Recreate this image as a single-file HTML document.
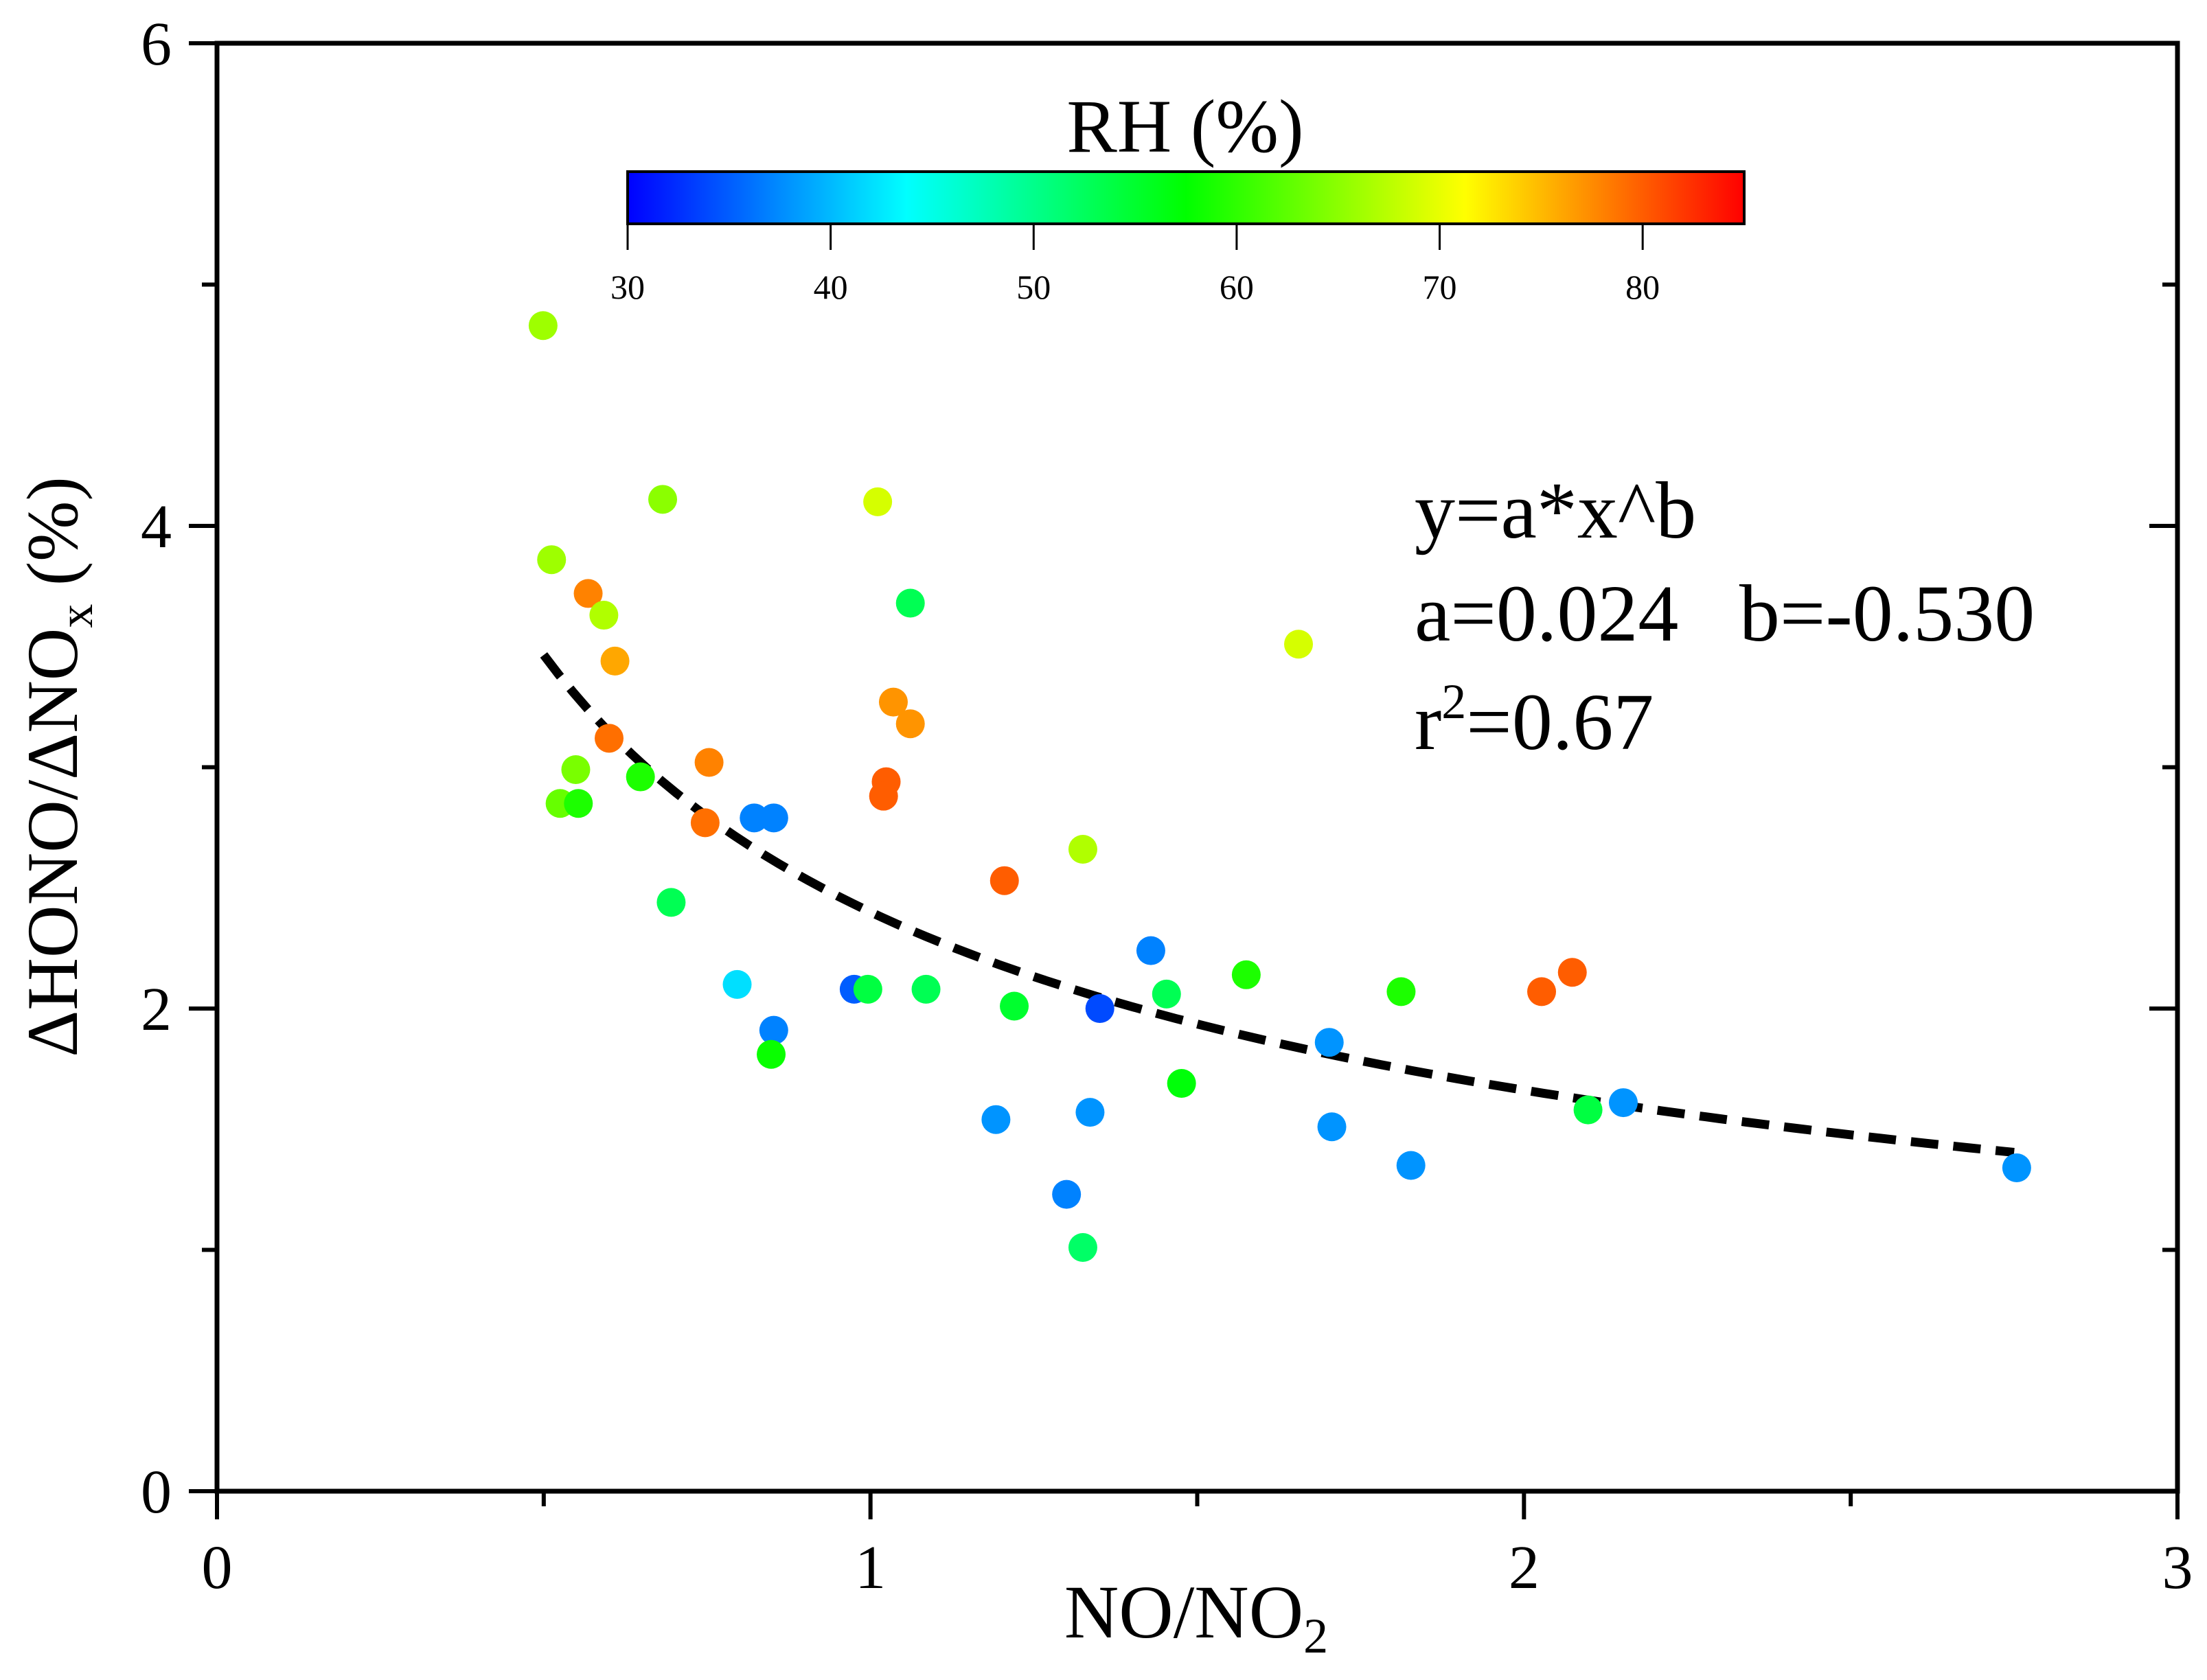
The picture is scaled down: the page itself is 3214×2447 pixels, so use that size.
<!DOCTYPE html>
<html><head><meta charset="utf-8"><style>
html,body{margin:0;padding:0;background:#fff;}
svg{display:block;font-family:"Liberation Serif",serif;}
</style></head><body>
<svg id="chart" width="3214" height="2447" viewBox="0 0 3214 2447" xmlns="http://www.w3.org/2000/svg">
<defs>
<linearGradient id="jet" x1="0" x2="1" y1="0" y2="0">
<stop offset="0" stop-color="#0000ff"/>
<stop offset="0.25" stop-color="#00ffff"/>
<stop offset="0.5" stop-color="#00ff00"/>
<stop offset="0.75" stop-color="#ffff00"/>
<stop offset="1" stop-color="#ff0000"/>
</linearGradient>
</defs>
<g id="axes"></g>
<g id="fit"></g>
<g id="points"></g>
<g id="cbar"></g>
<text x="2060" y="783" font-size="118">y=a*x^b</text>
<text x="2060" y="933" font-size="118" xml:space="preserve">a=0.024   b=-0.530</text>
<text x="2060" y="1091" font-size="118">r<tspan dy="-45" font-size="72">2</tspan><tspan dy="45">=0.67</tspan></text>
<text x="1742" y="2385" font-size="110" text-anchor="middle">NO/NO<tspan dy="22" font-size="72">2</tspan></text>
<text transform="translate(112,1117) rotate(-90)" font-size="106" text-anchor="middle">ΔHONO/ΔNO<tspan dy="22" font-size="70">x</tspan><tspan dy="-22"> (%)</tspan></text>
</svg>
<script>
const xTicks = [0, 1, 2, 3];
const yTicks = [0, 2, 4, 6];
const cbTicks = [30, 40, 50, 60, 70, 80];
const xVals = [0.499,0.682,0.512,0.568,0.592,0.609,0.600,0.549,0.525,0.553,0.648,0.753,0.747,0.822,0.852,0.695,0.796,0.852,0.848,0.975,0.996,1.011,1.061,1.035,1.061,1.024,1.020,1.085,1.205,1.220,1.192,1.300,1.325,1.351,1.336,1.325,1.429,1.453,1.476,1.575,1.655,1.702,1.706,1.812,1.827,2.027,2.074,2.098,2.152,2.754];
const yVals = [4.83,4.11,3.86,3.72,3.63,3.44,3.12,2.99,2.85,2.85,2.96,3.02,2.77,2.79,2.79,2.44,2.10,1.91,1.81,2.08,2.08,4.10,3.68,3.27,3.18,2.94,2.88,2.08,2.53,2.01,1.54,1.23,2.66,2.00,1.57,1.01,2.24,2.06,1.69,2.14,3.51,1.86,1.51,2.07,1.35,2.07,2.15,1.58,1.61,1.34];
const rhVals = [66,65,66,78,67,76,79,64,63,59,59,78,79,37,37,53,42,37,58,35,54,69,53,77,77,80,80,53,80,55,38,37,67,34,38,52,37,53,57,59,69,38,38,59,38,80,80,54,38,38];
const fitA = 2.4, fitB = -0.530, fitX0 = 0.5, fitX1 = 2.75;

const NS = "http://www.w3.org/2000/svg";
const X0 = 316, X1 = 3171, Y0 = 2172, Y1 = 63;
const sx = v => X0 + (v - 0) / 3 * (X1 - X0);
const sy = v => Y0 - (v - 0) / 6 * (Y0 - Y1);
const CB0 = 914, CB1 = 2540, CBT = 250, CBB = 326, RH0 = 30, RH1 = 85;
const scb = v => CB0 + (v - RH0) / (RH1 - RH0) * (CB1 - CB0);
function mk(tag, attrs, parent) {
  const e = document.createElementNS(NS, tag);
  for (const k in attrs) e.setAttribute(k, attrs[k]);
  parent.appendChild(e); return e;
}
function jet(v) {
  let t = Math.max(0, Math.min(1, (v - RH0) / (RH1 - RH0)));
  const stops = [[0,0,255],[0,255,255],[0,255,0],[255,255,0],[255,0,0]];
  const s = t * 4, i = Math.min(3, Math.floor(s)), f = s - i;
  const c = stops[i].map((a, k) => Math.round(a + (stops[i+1][k] - a) * f));
  return `rgb(${c[0]},${c[1]},${c[2]})`;
}
const axes = document.getElementById('axes');
let r = mk('rect', {x: X0, y: Y1, width: X1 - X0, height: Y0 - Y1, fill: 'none', stroke: '#000', 'stroke-width': 7}, axes);


for (let v = 0; v <= 6; v += 1) {
  const major = v % 2 === 0;
  const len = major ? 41 : 22;
  let t = mk('line', {x1: X0 - len, x2: X0, y1: sy(v), y2: sy(v), stroke: '#000', 'stroke-width': 6}, axes);
  
  
  let t2 = mk('line', {x1: X1, x2: X1 - len, y1: sy(v), y2: sy(v), stroke: '#000', 'stroke-width': 6}, axes);
  
  
}
yTicks.forEach(v => {
  const tx = mk('text', {x: 250, y: sy(v) + 31, 'font-size': 90, 'text-anchor': 'end'}, axes);
  tx.textContent = v;
  
  
});
for (let v = 0; v <= 3; v += 0.5) {
  const major = Math.abs(v - Math.round(v)) < 1e-9;
  const len = major ? 41 : 22;
  let t = mk('line', {x1: sx(v), x2: sx(v), y1: Y0, y2: Y0 + len, stroke: '#000', 'stroke-width': 6}, axes);
  
  
}
xTicks.forEach(v => {
  const tx = mk('text', {x: sx(v), y: 2313, 'font-size': 90, 'text-anchor': 'middle'}, axes);
  tx.textContent = v;
  
  
});
// fit curve
const fit = document.getElementById('fit');
let d = '';
for (let i = 0; i <= 100; i++) {
  const x = fitX0 + (fitX1 - fitX0) * i / 100;
  const y = fitA * Math.pow(x, fitB);
  d += (i ? 'L' : 'M') + sx(x).toFixed(1) + ',' + sy(y).toFixed(1);
}
const fp = mk('path', {d: d, fill: 'none', stroke: '#000', 'stroke-width': 13, 'stroke-dasharray': '40 22'}, fit);


// points
const pts = document.getElementById('points');
xVals.forEach((x, i) => {
  const c = mk('circle', {cx: sx(x), cy: sy(yVals[i]), r: 21, fill: jet(rhVals[i])}, pts);
  
  
});
// colorbar
const cb = document.getElementById('cbar');
const cr = mk('rect', {x: CB0, y: CBT, width: CB1 - CB0, height: CBB - CBT, fill: 'url(#jet)', stroke: '#000', 'stroke-width': 4}, cb);


cbTicks.forEach(v => {
  const l = mk('line', {x1: scb(v), x2: scb(v), y1: CBB, y2: CBB + 38, stroke: '#000', 'stroke-width': 3}, cb);
  
  
  const tx = mk('text', {x: scb(v), y: 435, 'font-size': 50, 'text-anchor': 'middle'}, cb);
  tx.textContent = v;
  
  
});
const ct = mk('text', {x: 1726, y: 221, 'font-size': 110, 'text-anchor': 'middle'}, cb);
ct.textContent = 'RH (%)';


</script>
</body></html>
